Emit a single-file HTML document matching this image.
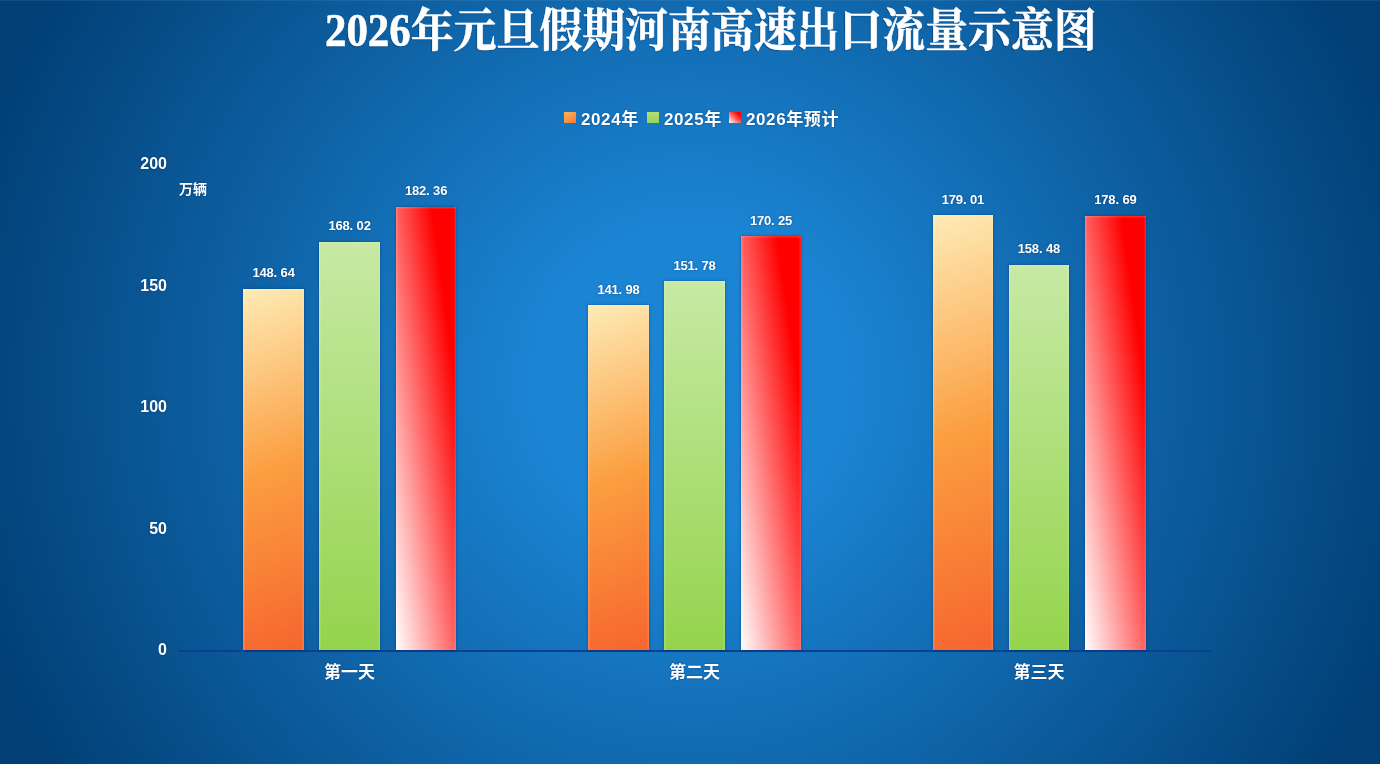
<!DOCTYPE html>
<html lang="zh-CN">
<head>
<meta charset="utf-8">
<title>2026年元旦假期河南高速出口流量示意图</title>
<style>
html,body{margin:0;padding:0;}
body{width:1380px;height:764px;overflow:hidden;position:relative;
 font-family:"Liberation Sans","Noto Sans CJK SC",sans-serif;color:#fff;
 background:radial-gradient(circle 750px at 690px 382px,#1b84d3 0,#1b84d3 21%,#013f75 100%);}
.abs{position:absolute;}
svg.g{position:absolute;left:0;top:0;width:1380px;height:764px;overflow:visible;pointer-events:none;}
.t{position:absolute;color:#fff;white-space:nowrap;line-height:1;font-family:"Liberation Sans","Noto Sans CJK SC",sans-serif;text-shadow:0 0 2px rgba(0,40,90,.6);filter:blur(.4px);}
.bar{position:absolute;width:60.6px;box-shadow:inset 1.5px 0 0 rgba(255,255,255,.16),inset -1.5px 0 0 rgba(255,255,255,.12),inset 0 1.5px 0 rgba(255,255,255,.14),0 0 2.5px rgba(0,35,95,.5);}
.o{background:linear-gradient(160deg,#feebb6 0%,#fb9e40 50%,#f6652e 100%);}
.gr{background:linear-gradient(180deg,#c7e9a4 0%,#94d44c 100%);}
.r{background:linear-gradient(to top right,#ffffff 0%,#ff0000 80%,#ff0000 100%);}
.yl,.dl,.lg,.ttl{filter:blur(.4px);}
.yl{position:absolute;left:100px;width:67px;text-align:right;font-weight:bold;font-size:16px;line-height:16px;height:16px;text-shadow:0 0 2px rgba(0,40,90,.6);}
.dl{position:absolute;width:80px;text-align:center;font-weight:bold;font-size:13px;line-height:14px;height:14px;letter-spacing:-0.2px;text-shadow:0 0 2px rgba(0,40,90,.6);}
.dl i{display:inline-block;width:7px;font-style:normal;text-align:left;letter-spacing:0;}
.lg{position:absolute;font-weight:bold;font-size:17px;line-height:18px;height:18px;white-space:nowrap;letter-spacing:.6px;text-shadow:0 0 2px rgba(0,40,90,.6);font-family:"Liberation Sans","Noto Sans CJK SC",sans-serif;}
.sw{position:absolute;width:12px;height:11px;top:112px;}
.ttl{position:absolute;left:325px;top:8px;-webkit-text-stroke:.6px #fff;font-family:"Liberation Serif","Noto Serif CJK SC",serif;font-weight:bold;font-size:46px;line-height:46px;white-space:nowrap;transform-origin:0 0;transform:scaleX(.932);text-shadow:-1px 1px 1px rgba(0,40,90,.55);}
</style>
</head>
<body>
<div class="abs" style="left:0;top:0;width:1380px;height:1px;background:rgba(255,255,255,.07)"></div>
<div class="ttl">2026年元旦假期河南高速出口流量示意图</div>
<div class="sw" style="left:564px;background:linear-gradient(150deg,#fdb45a,#f57a30)"></div>
<div class="sw" style="left:647px;background:linear-gradient(180deg,#b4e07a,#98d454)"></div>
<div class="sw" style="left:729px;background:linear-gradient(to top right,#fff 0%,#f00 80%)"></div>
<div class="lg" style="left:581px;top:110.5px">2024年</div>
<div class="lg" style="left:664px;top:110.5px">2025年</div>
<div class="lg" style="left:746px;top:110.5px">2026年预计</div>
<div class="yl" style="top:156.2px">200</div>
<div class="yl" style="top:277.7px">150</div>
<div class="yl" style="top:399.2px">100</div>
<div class="yl" style="top:520.7px">50</div>
<div class="yl" style="top:642.2px">0</div>
<div class="t" style="left:179px;top:182px;font-size:14px;font-weight:bold">万辆</div>
<div class="abs" style="left:178px;top:649.5px;width:1033px;height:2px;background:#0b3f8f"></div>
<div class="bar o" style="left:243.3px;top:288.8px;height:361.2px"></div>
<div class="dl" style="left:233.6px;top:266.3px">148<i>.</i>64</div>
<div class="bar gr" style="left:319.3px;top:241.7px;height:408.3px"></div>
<div class="dl" style="left:309.6px;top:219.2px">168<i>.</i>02</div>
<div class="bar r" style="left:395.8px;top:206.9px;height:443.1px"></div>
<div class="dl" style="left:386.1px;top:184.4px">182<i>.</i>36</div>
<div class="t" style="left:319.6px;top:664px;font-size:17px;font-weight:bold;width:60px;text-align:center">第一天</div>
<div class="bar o" style="left:588.2px;top:305.0px;height:345.0px"></div>
<div class="dl" style="left:578.5px;top:282.5px">141<i>.</i>98</div>
<div class="bar gr" style="left:664.2px;top:281.2px;height:368.8px"></div>
<div class="dl" style="left:654.5px;top:258.7px">151<i>.</i>78</div>
<div class="bar r" style="left:740.7px;top:236.3px;height:413.7px"></div>
<div class="dl" style="left:731.0px;top:213.8px">170<i>.</i>25</div>
<div class="t" style="left:664.5px;top:664px;font-size:17px;font-weight:bold;width:60px;text-align:center">第二天</div>
<div class="bar o" style="left:932.6px;top:215.0px;height:435.0px"></div>
<div class="dl" style="left:922.9px;top:192.5px">179<i>.</i>01</div>
<div class="bar gr" style="left:1008.6px;top:264.9px;height:385.1px"></div>
<div class="dl" style="left:998.9px;top:242.4px">158<i>.</i>48</div>
<div class="bar r" style="left:1085.1px;top:215.8px;height:434.2px"></div>
<div class="dl" style="left:1075.4px;top:193.3px">178<i>.</i>69</div>
<div class="t" style="left:1008.9px;top:664px;font-size:17px;font-weight:bold;width:60px;text-align:center">第三天</div>
<svg class="g" viewBox="0 0 1380 764" aria-hidden="true">
</svg>
</body>
</html>
